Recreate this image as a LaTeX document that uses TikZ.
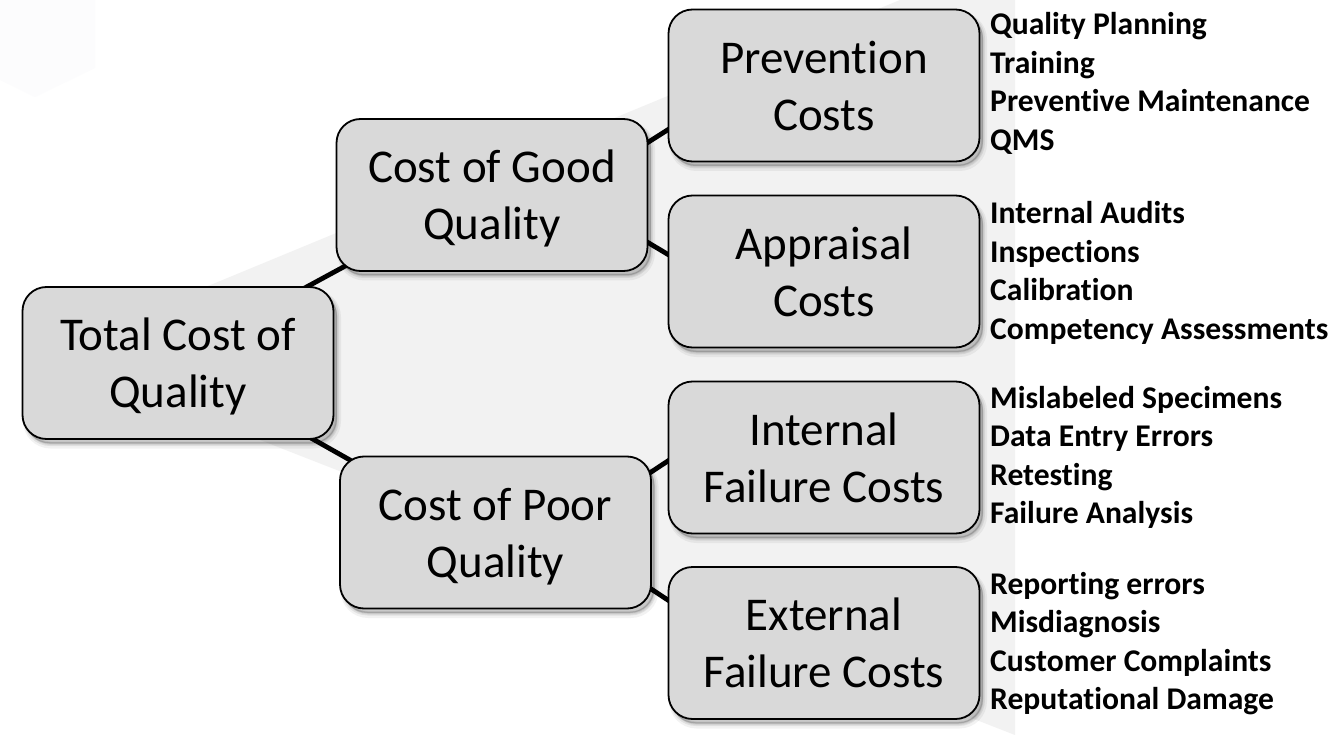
\documentclass[tikz,border=0pt]{standalone}
\usepackage{fontspec}
\setmainfont{Carlito}[Ligatures=NoCommon]
\usetikzlibrary{calc,shadows}
\pgfdeclarelayer{back}
\pgfdeclarelayer{lines}
\pgfsetlayers{back,lines,main}
\definecolor{boxfill}{HTML}{D9D9D9}
\definecolor{bggray}{HTML}{F2F2F2}
\definecolor{faint}{HTML}{FCFCFD}
\tikzset{
  box/.style={draw=black, line width=1.8pt, fill=boxfill, rounded corners=24pt,
    minimum width=311pt, minimum height=152pt, inner sep=0pt, align=center,
    font=\fontsize{47}{57}\selectfont, text depth=0pt,
    drop shadow={shadow xshift=4pt, shadow yshift=-6pt, opacity=0.05, fill=black, draw=black, line width=7pt},
    drop shadow={shadow xshift=3.5pt, shadow yshift=-5pt, opacity=0.07, fill=black, draw=black, line width=4pt},
    drop shadow={shadow xshift=3pt, shadow yshift=-4pt, opacity=0.10, fill=black, draw=black, line width=1pt}},
  conn/.style={line width=4.8pt, black},
  lab/.style={anchor=base west, inner sep=0pt, font=\fontsize{31.6}{38.5}\selectfont\bfseries},
}
\begin{document}
\begin{tikzpicture}[x=1pt,y=-1pt]
\useasboundingbox (0,0) rectangle (1330,735);
\begin{pgfonlayer}{back}
\fill[white] (0,0) rectangle (1330,735);
\fill[faint] (0,0) -- (95,0) -- (95,68) -- (35,97) -- (0,80) -- cycle;
\fill[bggray] (150,310) -- (900,0) -- (1015,0) -- (1015,735) -- (150,397) -- cycle;
\end{pgfonlayer}

\node[box] (total) at (178,363) {Total Cost of\\Quality};
\node[box] (good) at (492,195) {Cost of Good\\Quality};
\node[box] (poor) at (495.5,532.5) {Cost of Poor\\Quality};
\node[box] (prev) at (824,85.5) {Prevention\\Costs};
\node[box] (appr) at (824,271.5) {Appraisal\\Costs};
\node[box] (intf) at (824,457.5) {Internal\\Failure Costs};
\node[box] (extf) at (824,643) {External\\Failure Costs};

\begin{pgfonlayer}{lines}
\draw[conn] ($(total)+(112,-67)$) -- ($(good)+(-132,63)$);
\draw[conn] ($(total)+(117,66)$) -- ($(poor)+(-130.5,-64)$);
\draw[conn] ($(good)+(140,-42.5)$) -- ($(prev)+(-140,34)$);
\draw[conn] ($(good)+(140,38)$) -- ($(appr)+(-140,-7.5)$);
\draw[conn] ($(poor)+(140.5,-50.5)$) -- ($(intf)+(-141,-6.5)$);
\draw[conn] ($(poor)+(140.5,46.5)$) -- ($(extf)+(-141,-33)$);
\end{pgfonlayer}

\foreach \t [count=\i from 0] in {Quality Planning, Training, Preventive Maintenance, QMS}
  \node[lab] (pl\i) at (990,{35+38.5*\i}) {\t};
\foreach \t [count=\i from 0] in {Internal Audits, Inspections, Calibration, Competency Assessments}
  \node[lab] (al\i) at (990,{224+38.5*\i}) {\t};
\foreach \t [count=\i from 0] in {Mislabeled Specimens, Data Entry Errors, Retesting, Failure Analysis}
  \node[lab] (il\i) at (990,{408+38.5*\i}) {\t};
\foreach \t [count=\i from 0] in {Reporting errors, Misdiagnosis, Customer Complaints, Reputational Damage}
  \node[lab] (el\i) at (990,{594+38.5*\i}) {\t};
\end{tikzpicture}
\end{document}
